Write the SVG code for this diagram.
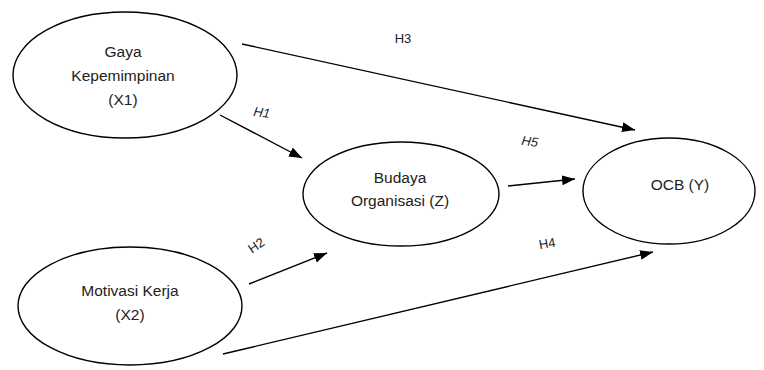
<svg xmlns="http://www.w3.org/2000/svg" width="764" height="370" viewBox="0 0 764 370">
<style>
.node ellipse{fill:#fff;stroke:#000;stroke-width:1.4}
.node text{font-family:"Liberation Sans",Arial,sans-serif;font-size:15.5px;fill:#222;text-anchor:middle}
.conn line{stroke:#000;stroke-width:1.4;marker-end:url(#ah)}
.lbl{font-family:"Liberation Sans",Arial,sans-serif;font-size:13px;fill:#222;text-anchor:middle}
.it{font-style:italic}
</style>
<defs>
<marker id="ah" markerUnits="userSpaceOnUse" markerWidth="14" markerHeight="12" refX="13" refY="5" orient="auto">
<path d="M0,0 L13,5 L0,10 z" fill="#000"/>
</marker>
</defs>
<rect width="764" height="370" fill="#fff"/>
<g id="connectors" class="conn">
<line x1="242" y1="44" x2="635" y2="130"/>
<line x1="220" y1="115" x2="302" y2="158"/>
<line x1="508" y1="186" x2="575" y2="179"/>
<line x1="249" y1="284" x2="327" y2="253"/>
<line x1="223" y1="354" x2="653" y2="252"/>
</g>
<g id="labels">
<text class="lbl" x="403" y="43">H3</text>
<text class="lbl it" x="262" y="117" transform="rotate(8 262 112)">H1</text>
<text class="lbl it" x="530" y="146" transform="rotate(8 530 141)">H5</text>
<text class="lbl" x="256" y="250" transform="rotate(-35 256 245)">H2</text>
<text class="lbl" x="547" y="248" transform="rotate(-10 547 243)">H4</text>
</g>
<g id="gaya" class="node">
<ellipse cx="125" cy="75" rx="112" ry="63"/>
<text x="123" y="57">Gaya</text>
<text x="123" y="81">Kepemimpinan</text>
<text x="123" y="105">(X1)</text>
</g>
<g id="budaya" class="node">
<ellipse cx="401" cy="194" rx="98" ry="52"/>
<text x="400" y="183">Budaya</text>
<text x="400" y="206">Organisasi (Z)</text>
</g>
<g id="ocb" class="node">
<ellipse cx="669" cy="191" rx="86" ry="53"/>
<text x="680" y="190">OCB (Y)</text>
</g>
<g id="motivasi" class="node">
<ellipse cx="130" cy="306" rx="112" ry="59"/>
<text x="130" y="296">Motivasi Kerja</text>
<text x="130" y="320">(X2)</text>
</g>
</svg>
